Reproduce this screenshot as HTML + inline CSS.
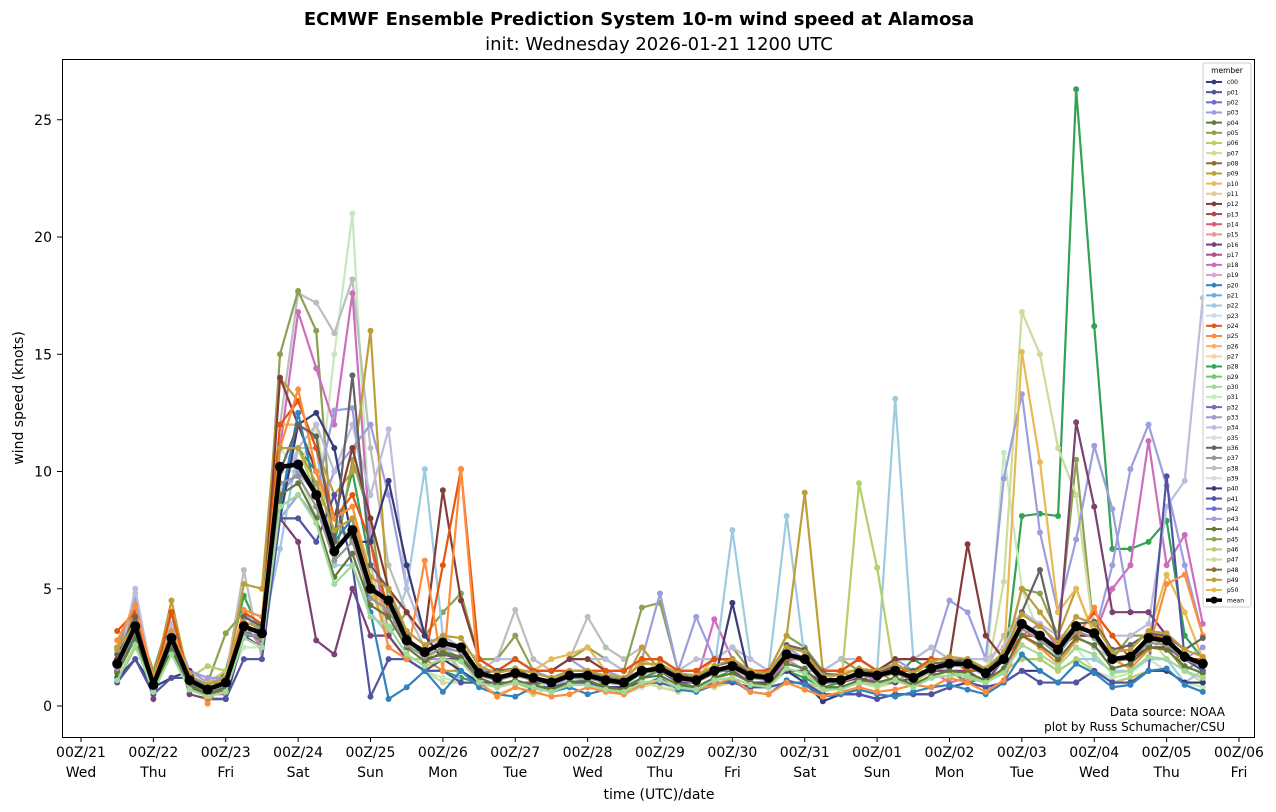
<!DOCTYPE html>
<html><head><meta charset="utf-8"><style>
body{margin:0;background:#fff;font-family:"DejaVu Sans","Liberation Sans",sans-serif}
svg{display:block;font-family:"DejaVu Sans","Liberation Sans",sans-serif}
</style></head><body>
<svg id="chart" width="1276" height="812" xmlns="http://www.w3.org/2000/svg">
<text x="639" y="25" text-anchor="middle" font-size="18" font-weight="bold">ECMWF Ensemble Prediction System 10-m wind speed at Alamosa</text>
<text x="659" y="50" text-anchor="middle" font-size="18">init: Wednesday 2026-01-21 1200 UTC</text>
<text x="659" y="799" text-anchor="middle" font-size="14">time (UTC)/date</text>
<text transform="translate(23,398) rotate(-90)" text-anchor="middle" font-size="14">wind speed (knots)</text>
<g id="plot"></g>
<rect x="62.5" y="59.5" width="1192" height="678" fill="none" stroke="#000" stroke-width="1"/>
<text x="1225" y="716" text-anchor="end" font-size="12">Data source: NOAA</text>
<text x="1225" y="731" text-anchor="end" font-size="12">plot by Russ Schumacher/CSU</text>
<g id="axes"></g>
<g id="legend"></g>
</svg>
<script>
const xTickLabels=["00Z/21","00Z/22","00Z/23","00Z/24","00Z/25","00Z/26","00Z/27","00Z/28","00Z/29","00Z/30","00Z/31","00Z/01","00Z/02","00Z/03","00Z/04","00Z/05","00Z/06"];
const dayLabels=["Wed","Thu","Fri","Sat","Sun","Mon","Tue","Wed","Thu","Fri","Sat","Sun","Mon","Tue","Wed","Thu","Fri"];
const yTicks=[0,5,10,15,20,25];
const memberNames=["c00"].concat(Array.from({length:50},(_,i)=>"p"+String(i+1).padStart(2,"0")));
const meanValues=[1.8,3.4,0.9,2.9,1.1,0.7,1.0,3.4,3.1,10.2,10.3,9.0,6.6,7.5,5.0,4.5,2.8,2.3,2.7,2.5,1.4,1.2,1.4,1.2,1.0,1.3,1.3,1.1,1.0,1.5,1.6,1.2,1.1,1.5,1.7,1.3,1.2,2.2,2.0,1.1,1.1,1.4,1.3,1.5,1.2,1.6,1.8,1.8,1.4,2.0,3.5,3.0,2.4,3.4,3.1,2.0,2.1,2.9,2.8,2.1,1.8];
const memberSeries={
p28:[2,3,1,2.5,1,0.5,1.5,4.7,3,9,11,10,7,10,6,3,2,1.5,1.5,1.2,1,0.8,1,1,0.7,1,1.5,0.8,0.8,1.2,1.5,1,0.8,1.2,1.5,1,1,1.5,1.2,0.8,1,1.5,1,1.2,2,1.5,1.5,1,1.2,1.5,8.1,8.2,8.1,26.3,16.2,6.7,6.7,7.0,7.9,3,2],
p31:[1,3,1,2.5,0.8,0.6,1,2.5,2.5,11,10,8,15,21,7,3,2,1.5,1.2,1,1,0.8,1,0.8,1,1.2,1,0.8,0.5,0.8,1,0.6,0.8,1,1.5,1,0.8,1.5,1,0.7,0.8,1,0.8,1,1,1.2,1.5,1.2,1,10.8,5,3,2,2.5,1.5,1.2,1.4,2,1.5,1,0.8],
p38:[1.5,4.8,1,3.5,1.5,1,1.2,5.8,2,12,17.6,17.2,15.9,18.2,11,6,4,2.5,3,2.5,2,2,4.1,2,1.5,2,3.8,2.5,2,2.5,1.5,1.5,1.5,2,2,1.5,1.5,2,2,1.5,1.5,2,1.5,2,1.5,2,2,2,1.5,3,4,3.5,2.5,3,2.5,2,2,3,2.5,2,1.8],
p05:[2.5,3.8,1.5,4,0.8,1,3.1,4,3.5,15,17.7,16,6,10.5,8,3,4,3,4,4.8,2,2,3,1.5,1.5,2,2.5,2,1.5,4.2,4.4,1.5,1.5,2,2.5,1.5,1.5,3,2.5,1.5,2,1.5,1.5,2,2,2.5,2,1.5,1.5,2,5,4.8,3,10.5,3,2,3,3,2.5,1.5,2],
p18:[1.5,3,0.5,3.5,1,0.5,0.5,3.5,2.5,11,16.8,14.4,12,17.6,7,3,2,1.5,2,2,1.5,1,1.5,1,1,1.5,1.5,1,1,1.5,1.5,1.5,1,3.7,2,1,1,2,1.5,1,1,1.5,1,1,1.5,1.5,1,1.2,1,1.5,3,3.5,2.5,3,3,5,6,11.3,6,7.3,3.5],
p07:[2,3,1,2.5,1,0.8,1,3,3,10,10,12,7,8,6,3,2,1.5,1,1,1,0.5,0.8,0.5,0.8,1,1,0.8,0.8,1,0.8,0.6,0.8,0.8,1,0.8,0.8,1,1,0.6,0.8,1,0.8,1,1,1.2,1.5,1.2,1,5.3,16.8,15,11,9,3,2,2,3,2,1.5,1],
p03:[2.5,4.5,1,3.5,1.5,1,1.2,4,3,8,9,8,10,11,12,9,5,3,2.5,2,1.5,1.5,2,1.5,1.5,2,1.5,1.2,1,2,4.8,1.5,3.8,2,2,1.5,1.5,2.5,2,1.5,1.5,2,1.5,2,1.5,2,4.5,4,2,9.7,13.3,7.4,4,7.1,11.1,8.4,4,4,3,2,2.5],
p22:[2,3,1,3,1,0.6,1,3,3,6.7,11,11,6,6,4,3,5,10.1,3,1,1,1,1.5,1,1,1,1.2,1,1,1.5,1.5,1,1,1.5,7.5,2,1.5,8.1,2,1,1.5,2,1.5,13.1,2,2,1.5,1.5,1,1.5,2,2,1.5,2,2,1.5,1.5,2,2,1,1.5],
p09:[2.5,4,1,4.5,1,1,1,5.2,5,14,13,11,9,10,16,4,3,2,1.5,1.5,1,1,1.5,1,1,1.5,1.5,1.5,1,2.5,1.5,1.5,1.5,2,2,1.5,1.5,3,9.1,1.5,1.5,1,1.5,1,1.5,2,2,1.5,1.5,2,5,4,3,5,3,2,2,3,3,1.5,1.2],
p10:[2,3,1,3,1,1,1.5,3,3,12,12,10,7,8,5,4,3,2,2,2,1.5,1.5,1.5,1.5,2,2.2,2.5,1.5,1,2,1.5,1.2,1.2,2,2,1.5,1.5,2,1.5,1,1.5,1.5,1.5,1.5,1.5,1.5,2,2,1.5,2,15.1,10.4,4,5,3,2,2,3,5.6,4,2],
p34:[1.5,5,1,3.5,1,0.7,1,3.5,3,9,11,12,10,12,9,11.8,5,3,2.5,2.5,1.5,2,2,1.5,1.5,2,2,2,1.5,2,2,1.5,2,2,2.5,2,1.5,2,2,1.5,2,2,1.5,2,2,2.5,2,2,2,2.5,4,3.5,3,3,4,3,3,3.5,8.5,9.6,17.4],
p06:[1,2.5,1,2.5,1.2,1.7,1.5,3,3.1,11,11,9,8,7,5,3,2,2,2.5,1.5,1,0.8,1,0.7,0.8,1,1,0.8,0.8,1,1,0.8,0.8,1,1,0.8,0.8,1,1,0.8,0.8,9.5,5.9,1.2,1,1.5,1.5,1.2,1,1.5,2,2,1.5,2,1.5,1,1.2,1.5,1.5,1,1],
p43:[2,3.5,1,3,1.5,1.2,1.2,3.5,3,9,10,9,12.6,12.7,7,4,3,2,2,2,1.5,1.5,1.5,1.5,1.2,1.5,1.5,1.5,1.2,1.5,1.5,1.5,1.5,2,2,1.5,1.5,2,1.5,1.5,1.5,2,1.5,1.5,1.5,2,2,1.8,1.5,2,3,3,2.5,3,3,6,10.1,12,9.4,6,3],
p16:[1.5,3,0.3,3,0.5,0.3,0.3,3,2.5,8,7,2.8,2.2,5,3,3,2,1.5,2,2,1,1,1,1,1,1.2,1.2,1,1,1.5,1.5,1,1,1.5,1.5,1,1,1.5,1.5,1,1,1.2,1,1,1.2,1.5,1.5,1.5,1,2,3,3,2.5,12.1,8.5,4,4,4,3,2,2],
p12:[2,3,1,4,1,0.8,1,3.5,3,14,12,10,8,11,8,5,4,3,9.2,4.5,2,1.5,2,1.5,1.5,2,2,1.5,1.5,2,2,1.5,1.5,2,2,1.5,1.5,2,2,1.5,1.5,2,1.5,2,2,2,2,6.9,3,2,3,3,2.5,3,3,2,2,2.5,2.5,2,2],
p24:[3.2,4,1,4,1,0.5,1,4,3.5,12,13,11,8,9,7,4,3,2,6,10.1,2,1.5,2,1.5,1.5,1.5,1.5,1.5,1.5,2,2,1.5,1.5,2,2,1.5,1.5,2,2,1.5,1.5,2,1.5,1.5,1.5,2,2,1.5,1.5,2,3,3,2.5,3,4,3,2,3,3,2,2],
p40:[1.2,2,0.8,1.2,1.5,0.3,0.3,3,3,8,12,12.5,11,7,7,9.6,6,3,2,1.5,1,1,1,0.8,0.8,1,1,0.8,0.8,1,1,0.8,0.8,1,4.4,1,1,1.5,1,0.2,0.5,0.5,0.3,0.5,0.5,0.5,0.8,1,0.8,1,1.5,1.5,1,1,1.5,1,1,1.5,1.5,1,1],
p41:[1,2,0.5,1.2,1.2,0.3,0.3,2,2,8,8,7,9,6,0.4,2,2,1.5,1.5,1,1,1,1,0.8,0.8,1,1,0.8,0.5,1,1,0.8,0.8,1,1,0.8,0.8,1,1,0.5,0.5,0.5,0.3,0.5,0.5,0.5,0.8,1,0.8,1,1.5,1,1,1,1.5,1,1,1.5,9.8,2,1.5],
p20:[1.8,3,1,2.5,1.2,0.8,1,3,3,8.5,12.5,9,7,8,4,0.3,0.8,1.5,0.6,1.5,0.8,0.5,0.4,0.8,0.6,0.8,0.5,0.7,0.6,0.9,1.2,0.7,0.6,0.9,1.1,0.6,0.5,1.1,0.9,0.4,0.5,0.7,0.5,0.4,0.6,0.8,0.9,0.7,0.5,1.0,2.2,1.5,1.0,1.8,1.4,0.8,0.9,1.5,1.6,0.9,0.6],
p25:[2.8,4.3,1.2,3.2,1.4,0.1,1.2,4.1,3.8,11,13.5,10,8,8.5,5.5,2.5,2,6.2,1.5,10.1,1,0.4,0.8,0.6,0.4,0.5,0.8,0.6,0.5,0.9,1.1,0.8,0.7,0.9,1.2,0.6,0.5,1,0.7,0.4,0.6,0.8,0.6,0.7,0.9,0.8,1.2,1,0.6,1.1,3,2.5,1.8,2.8,4.2,2,1.6,2.4,5.2,5.6,3],
p36:[2.2,3.8,0.8,2.7,0.9,0.6,0.8,3.8,3.4,10,12,11.5,7,14.1,6,5,3,2,2.2,2,1.4,1.5,1.6,1.2,1.1,1.3,1.4,1.2,1.1,1.5,1.7,1.3,1.2,1.7,1.9,1.4,1.3,2.6,2.4,1.4,1.3,1.6,1.4,1.7,1.5,1.8,1.9,2,1.5,2.2,4,5.8,2.6,3.5,3.6,2.4,2.6,3.1,3,2.4,2.9],
p44:[1.4,2.9,0.7,2.4,0.8,0.5,0.7,3.2,2.8,9,9.5,8,5.5,6.5,4.3,3.8,2.5,1.9,2.3,2.1,1.2,0.9,1.1,0.9,0.7,1,1.1,0.8,0.7,1.2,1.3,0.9,0.8,1.2,1.4,1,0.9,1.8,1.6,0.8,0.8,1.1,1,1.2,0.9,1.3,1.5,1.4,1.1,1.6,3,2.6,2,2.9,2.6,1.6,1.8,2.5,2.4,1.7,1.4],
p49:[2.4,3.5,1.1,3.1,1.3,0.9,1.2,3.6,3.3,11,11,9.5,7.5,8,5.5,5,3.2,2.6,3,2.9,1.7,1.4,1.6,1.4,1.2,1.5,1.5,1.3,1.2,1.8,1.8,1.4,1.3,1.7,2,1.5,1.4,2.5,2.3,1.3,1.3,1.6,1.5,1.8,1.4,1.9,2.1,2,1.6,2.3,3.9,3.4,2.7,3.8,3.5,2.3,2.4,3.2,3.1,2.4,2.1],
p37:[1.6,3.2,0.9,2.7,1,0.6,0.9,3.1,2.9,9.5,9.8,8.5,6.2,7,4.6,4.1,2.6,2.1,2.5,2.3,1.3,1.1,1.3,1.1,0.9,1.2,1.2,1,0.9,1.4,1.5,1.1,1,1.4,1.6,1.2,1.1,2.1,1.9,1,1,1.3,1.2,1.4,1.1,1.5,1.7,1.7,1.3,1.9,3.3,2.8,2.2,3.2,2.9,1.9,2,2.7,2.6,2,1.7],
p30:[1.1,2.6,0.6,2.2,0.7,0.4,0.6,2.9,2.5,8.5,9,7.8,5.2,6,3.8,3.4,2.2,1.7,2,1.9,1,0.8,1,0.8,0.6,0.9,0.9,0.7,0.6,1,1.1,0.8,0.7,1.1,1.2,0.9,0.8,1.6,1.4,0.7,0.7,1,0.9,1.1,0.8,1.2,1.3,1.3,1,1.4,2.6,2.2,1.7,2.5,2.2,1.4,1.5,2.1,2,1.5,1.2]
};
const palette=["#393b79","#5254a3","#6b6ecf","#9c9ede","#637939","#8ca252","#b5cf6b","#cedb9c","#8c6d31","#bd9e39","#e7ba52","#e7cb94","#843c39","#ad494a","#d6616b","#e7969c","#7b4173","#a55194","#ce6dbd","#de9ed6","#3182bd","#6baed6","#9ecae1","#c6dbef","#e6550d","#fd8d3c","#fdae6b","#fdd0a2","#31a354","#74c476","#a1d99b","#c7e9c0","#756bb1","#9e9ac8","#bcbddc","#dadaeb","#636363","#969696","#bdbdbd","#d9d9d9"];
const NS="http://www.w3.org/2000/svg";
const X0=81,DAY=72.375,Y0=706,YU=23.45;
function xs(i){return X0+DAY*(0.5+i*0.25);}
function ys(v){return Y0-v*YU;}
function colorOf(name){const idx=memberNames.indexOf(name);return palette[idx%40];}
function mk(tag,attrs,parent){const e=document.createElementNS(NS,tag);for(const k in attrs)e.setAttribute(k,attrs[k]);parent.appendChild(e);return e;}
const plot=document.getElementById("plot"),axes=document.getElementById("axes"),legend=document.getElementById("legend");
for(const name of Object.keys(memberSeries)){
  const vals=memberSeries[name],c=colorOf(name);
  const g=mk("g",{},plot);
  
  
  const pl=mk("polyline",{points:vals.map((v,i)=>xs(i)+","+ys(v)).join(" "),fill:"none",stroke:c,"stroke-width":2.2},g);
  
  
  vals.forEach((v,i)=>{const p=mk("circle",{cx:xs(i),cy:ys(v),r:3,fill:c},g);
    
    });
}
const gm=mk("g",{},plot);


const ml=mk("polyline",{points:meanValues.map((v,i)=>xs(i)+","+ys(v)).join(" "),fill:"none",stroke:"#000","stroke-width":4.5,"stroke-linejoin":"round"},gm);


meanValues.forEach((v,i)=>{const p=mk("circle",{cx:xs(i),cy:ys(v),r:5,fill:"#000"},gm);
  
  });
xTickLabels.forEach((t,i)=>{const x=X0+DAY*i;
  const l=mk("line",{x1:x,x2:x,y1:737,y2:742,stroke:"#000"},axes);
  
  
  const tx=mk("text",{x:x,y:757,"text-anchor":"middle","font-size":14},axes);tx.textContent=t;
  
  
  const td=mk("text",{x:x,y:777,"text-anchor":"middle","font-size":14},axes);td.textContent=dayLabels[i];
  
  });
yTicks.forEach(v=>{const y=ys(v);
  const l=mk("line",{x1:57,x2:62,y1:y,y2:y,stroke:"#000"},axes);
  
  
  const t=mk("text",{x:52,y:y+5,"text-anchor":"end","font-size":14},axes);t.textContent=v;
  
  });
const box=mk("rect",{x:1203,y:63,width:48,height:544,rx:2,fill:"#fff","fill-opacity":0.8,stroke:"#ccc"},legend);


const lt=mk("text",{x:1227,y:73,"text-anchor":"middle","font-size":7.5},legend);lt.textContent="member";


memberNames.concat(["mean"]).forEach((n,i)=>{const y=82+i*10.16;const c=n==="mean"?"#000":palette[i%40];
  const g=mk("g",{},legend);
  
  
  mk("line",{x1:1206,x2:1222,y1:y,y2:y,stroke:c,"stroke-width":n==="mean"?3.5:2},g);
  mk("circle",{cx:1214,cy:y,r:n==="mean"?3.5:2.4,fill:c},g);
  const t=mk("text",{x:1227,y:y+2.2,"font-size":6},g);t.textContent=n;});
</script>
</body></html>
